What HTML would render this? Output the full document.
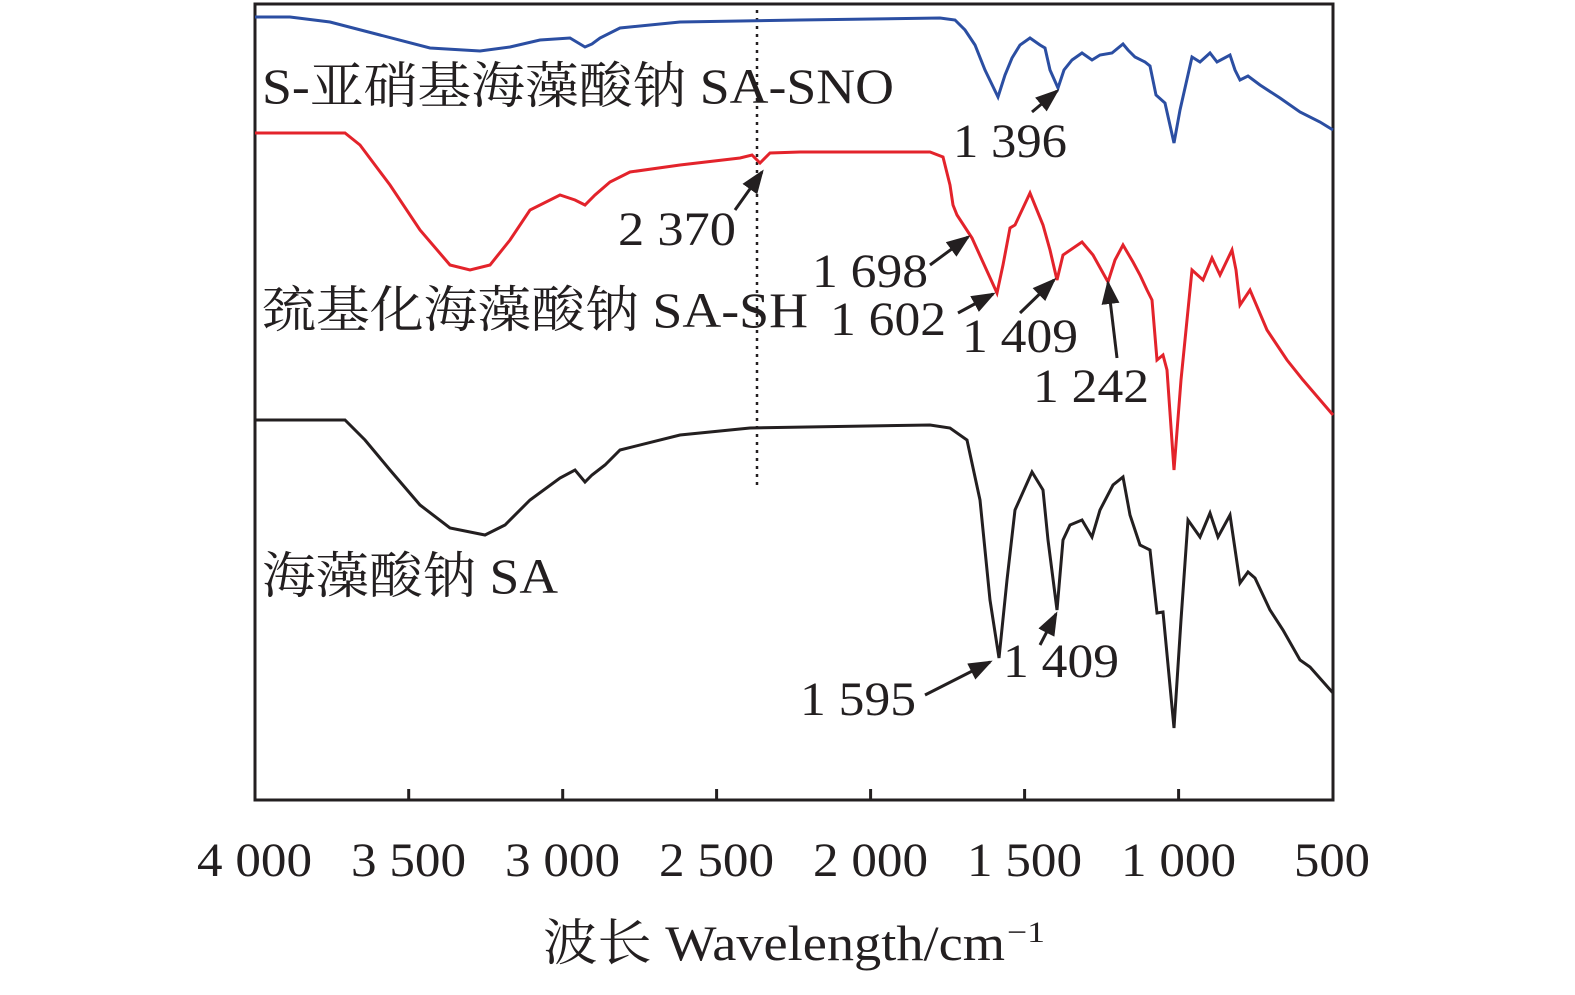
<!DOCTYPE html>
<html><head><meta charset="utf-8"><style>
html,body{margin:0;padding:0;background:#fff;}
svg text{font-family:"Liberation Serif","Noto Serif CJK SC",serif;fill:#231f20;}
</style></head><body>
<svg width="1575" height="990" viewBox="0 0 1575 990" xmlns="http://www.w3.org/2000/svg">
<defs><marker id="ah" markerWidth="8" markerHeight="6" refX="7" refY="3" orient="auto" markerUnits="strokeWidth"><path d="M0,0 L8,3 L0,6 Z" fill="#231f20"/></marker></defs>
<rect x="255" y="4" width="1078" height="796" fill="none" stroke="#231f20" stroke-width="3"/>
<g stroke="#231f20" stroke-width="3">
<line x1="408.7" y1="800" x2="408.7" y2="789"/><line x1="562.7" y1="800" x2="562.7" y2="789"/>
<line x1="716.6" y1="800" x2="716.6" y2="789"/><line x1="870.6" y1="800" x2="870.6" y2="789"/>
<line x1="1024.6" y1="800" x2="1024.6" y2="789"/><line x1="1178.6" y1="800" x2="1178.6" y2="789"/>
</g>
<g font-size="48">
<text x="197" y="876" textLength="115" lengthAdjust="spacingAndGlyphs">4 000</text>
<text x="351" y="876" textLength="115" lengthAdjust="spacingAndGlyphs">3 500</text>
<text x="505" y="876" textLength="115" lengthAdjust="spacingAndGlyphs">3 000</text>
<text x="659" y="876" textLength="115" lengthAdjust="spacingAndGlyphs">2 500</text>
<text x="813" y="876" textLength="115" lengthAdjust="spacingAndGlyphs">2 000</text>
<text x="967" y="876" textLength="115" lengthAdjust="spacingAndGlyphs">1 500</text>
<text x="1121" y="876" textLength="115" lengthAdjust="spacingAndGlyphs">1 000</text>
<text x="1294" y="876" textLength="76" lengthAdjust="spacingAndGlyphs">500</text>
</g>
<text x="543" y="960" font-size="50" textLength="462" lengthAdjust="spacingAndGlyphs">波长 Wavelength/cm</text>
<text x="1007" y="942" font-size="30" textLength="38" lengthAdjust="spacingAndGlyphs">−1</text>
<line x1="757" y1="10" x2="757" y2="488" stroke="#231f20" stroke-width="2.5" stroke-dasharray="3,5"/>
<polyline fill="none" stroke="#2b4ea2" stroke-width="3" points="255,17 290,17 330,22 380,35 430,48 480,51 510,47 540,40 570,38 585,47 592,44 600,38 620,28 680,22 800,20 940,18 955,20 965,30 975,45 985,70 998,97 1005,75 1012,58 1020,45 1030,38 1040,45 1045,48 1050,70 1058,88 1064,70 1072,60 1082,53 1092,60 1100,55 1112,53 1123,44 1128,50 1135,57 1145,62 1150,66 1156,95 1165,103 1174,143 1180,110 1192,57 1200,62 1210,53 1217,62 1230,55 1235,70 1240,80 1248,76 1260,85 1280,98 1300,112 1320,122 1333,130"/>
<polyline fill="none" stroke="#e3232b" stroke-width="3" points="255,133 345,133 360,145 390,185 420,230 450,265 470,270 490,265 510,240 530,210 560,195 575,200 585,205 595,195 610,182 630,172 680,165 740,158 752,155 760,163 770,153 800,152 930,152 943,157 950,185 953,205 957,215 972,238 997,293 1003,265 1010,228 1015,225 1030,193 1043,225 1050,250 1057,280 1063,255 1082,242 1093,255 1108,282 1115,260 1123,245 1133,262 1140,275 1147,290 1152,300 1157,360 1163,355 1167,370 1174,470 1181,380 1192,270 1203,280 1212,258 1220,275 1232,250 1236,270 1240,305 1250,290 1267,330 1287,360 1303,380 1333,415"/>
<polyline fill="none" stroke="#231f20" stroke-width="3" points="255,420 345,420 365,440 390,470 420,505 450,528 485,535 505,525 530,500 560,478 575,470 585,482 592,475 605,465 620,450 680,435 750,428 930,425 950,428 967,440 980,500 990,600 999,658 1007,580 1015,510 1032,472 1043,490 1048,540 1057,610 1063,540 1070,525 1082,520 1092,537 1100,510 1113,485 1123,477 1130,515 1140,545 1150,550 1157,613 1163,612 1174,728 1181,620 1188,520 1200,537 1210,513 1218,537 1230,515 1240,583 1248,572 1255,578 1270,610 1283,630 1300,660 1310,667 1333,693"/>
<g font-size="50">
<text x="262" y="103" textLength="632" lengthAdjust="spacingAndGlyphs">S-亚硝基海藻酸钠 SA-SNO</text>
<text x="262" y="327" textLength="546" lengthAdjust="spacingAndGlyphs">巯基化海藻酸钠 SA-SH</text>
<text x="262" y="593" textLength="296" lengthAdjust="spacingAndGlyphs">海藻酸钠 SA</text>
</g>
<g font-size="48">
<text x="953" y="157" textLength="114" lengthAdjust="spacingAndGlyphs">1 396</text>
<text x="618" y="245" textLength="118" lengthAdjust="spacingAndGlyphs">2 370</text>
<text x="812" y="287" textLength="116" lengthAdjust="spacingAndGlyphs">1 698</text>
<text x="830" y="335" textLength="116" lengthAdjust="spacingAndGlyphs">1 602</text>
<text x="962" y="352" textLength="116" lengthAdjust="spacingAndGlyphs">1 409</text>
<text x="1033" y="402" textLength="116" lengthAdjust="spacingAndGlyphs">1 242</text>
<text x="800" y="715" textLength="116" lengthAdjust="spacingAndGlyphs">1 595</text>
<text x="1003" y="677" textLength="116" lengthAdjust="spacingAndGlyphs">1 409</text>
</g>
<g stroke="#231f20" stroke-width="3" fill="none" marker-end="url(#ah)">
<line x1="1032" y1="112" x2="1057" y2="91"/>
<line x1="735" y1="210" x2="762" y2="172"/>
<line x1="930" y1="265" x2="968" y2="237"/>
<line x1="958" y1="313" x2="993" y2="294"/>
<line x1="1020" y1="313" x2="1054" y2="280"/>
<line x1="1117" y1="358" x2="1108" y2="283"/>
<line x1="925" y1="695" x2="990" y2="662"/>
<line x1="1040" y1="645" x2="1056" y2="614"/>
</g>
</svg>
</body></html>
